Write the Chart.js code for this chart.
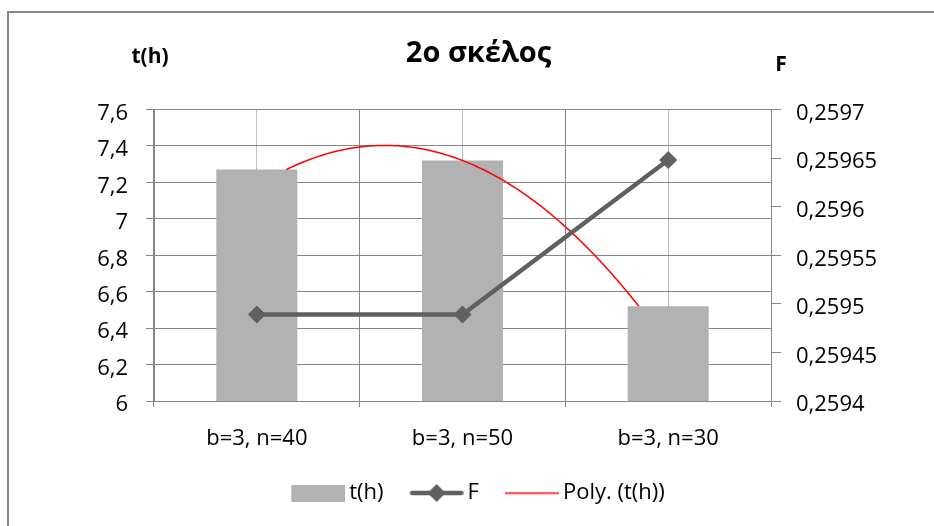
<!DOCTYPE html>
<html>
<head>
<meta charset="utf-8">
<script src="https://cdn.jsdelivr.net/npm/chart.js@4.4.1/dist/chart.umd.min.js"></script>
<style>
  html, body { margin: 0; padding: 0; background: #fff; }
  #frame { position: absolute; left: 7px; top: 11px; width: 1000px; height: 1000px;
           border: 2px solid #878787; box-sizing: border-box; }
  #chart { position: absolute; left: 0; top: 0; }
</style>
</head>
<body>
<div id="frame"></div>
<canvas id="chart" width="934" height="526"></canvas>
<script>
// Categories and measured series
const categories = ['b=3, n=40', 'b=3, n=50', 'b=3, n=30'];
const tHours = [7.27, 7.32, 6.52];
const fValues = [0.259489, 0.259489, 0.259648];

// Axis tick labels
const leftTicks = [6, 6.2, 6.4, 6.6, 6.8, 7, 7.2, 7.4, 7.6];
const rightTicks = [0.2594, 0.25945, 0.2595, 0.25955, 0.2596, 0.25965, 0.2597];

// Second-order least-squares trend of t(h) over category positions 0..n-1
function polyFit2(ys) {
  const S = [0, 0, 0, 0, 0], T = [0, 0, 0];
  ys.forEach((y, x) => {
    for (let k = 0; k < 5; k++) S[k] += Math.pow(x, k);
    for (let k = 0; k < 3; k++) T[k] += y * Math.pow(x, k);
  });
  const M = [[S[0], S[1], S[2], T[0]], [S[1], S[2], S[3], T[1]], [S[2], S[3], S[4], T[2]]];
  for (let c = 0; c < 3; c++) {
    for (let r = c + 1; r < 3; r++) {
      const f = M[r][c] / M[c][c];
      for (let k = c; k < 4; k++) M[r][k] -= f * M[c][k];
    }
  }
  const coef = [0, 0, 0];
  for (let r = 2; r >= 0; r--) {
    let s = M[r][3];
    for (let k = r + 1; k < 3; k++) s -= M[r][k] * coef[k];
    coef[r] = s / M[r][r];
  }
  return coef;
}
const trendCoef = polyFit2(tHours);
const trendPoints = [];
for (let i = 0; i <= 120; i++) {
  const x = (tHours.length - 1) * i / 120;
  trendPoints.push({ x, y: trendCoef[0] + trendCoef[1] * x + trendCoef[2] * x * x });
}

const fmt = (v, d) => String(parseFloat(Number(v).toFixed(d))).replace('.', ',');

// Legend icons: 60px canvases, glyph occupying x 6..60 so it sits flush left of the label
function icon(h, draw) {
  const c = document.createElement('canvas');
  c.width = 60; c.height = h;
  draw(c.getContext('2d'), h);
  return c;
}
const legendIcons = [
  icon(17, (g, h) => { g.fillStyle = '#b2b2b2'; g.fillRect(6, 0, 54, h); }),
  icon(20, (g, h) => {
    g.strokeStyle = '#606060'; g.lineWidth = 4.5; g.lineCap = 'round';
    g.beginPath(); g.moveTo(8.5, h / 2); g.lineTo(57.5, h / 2); g.stroke();
    g.fillStyle = '#606060';
    const cx = 33;
    g.beginPath(); g.moveTo(cx - 9, h / 2); g.lineTo(cx, h / 2 - 9);
    g.lineTo(cx + 9, h / 2); g.lineTo(cx, h / 2 + 9); g.closePath(); g.fill();
  }),
  icon(3, (g, h) => { g.fillStyle = '#ff0000'; g.fillRect(6, 0.75, 54, 1.5); })
];

// Axis captions above the value axes
const axisCaptions = {
  id: 'axisCaptions',
  afterDraw(chart) {
    const { ctx, chartArea } = chart;
    ctx.save();
    ctx.fillStyle = '#000';
    ctx.font = 'bold 21px "Open Sans"';
    ctx.textAlign = 'center';
    ctx.textBaseline = 'middle';
    ctx.fillText('t(h)', chartArea.left - 4, chartArea.top - 52);
    ctx.fillText('F', chartArea.right + 10, chartArea.top - 44.5);
    ctx.restore();
  }
};

Chart.defaults.font.family = '"Open Sans", sans-serif';
Chart.defaults.color = '#000';

const GRID_DARK = '#868686';
const GRID_LIGHT = '#bebebe';

new Chart(document.getElementById('chart'), {
  type: 'bar',
  data: {
    labels: categories,
    datasets: [
      {
        label: 't(h)',
        data: tHours,
        backgroundColor: '#b2b2b2',
        barPercentage: 0.394,
        categoryPercentage: 1,
        grouped: false,
        yAxisID: 'y',
        xAxisID: 'x',
        order: 3
      },
      {
        type: 'line',
        label: 'F',
        data: fValues,
        borderColor: '#606060',
        backgroundColor: '#606060',
        borderWidth: 4.5,
        borderCapStyle: 'round',
        pointStyle: 'rectRot',
        pointRadius: 8.5,
        pointBorderWidth: 1,
        pointBackgroundColor: '#606060',
        pointBorderColor: '#606060',
        tension: 0,
        yAxisID: 'y2',
        xAxisID: 'x',
        order: 1
      },
      {
        type: 'line',
        label: 'Poly. (t(h))',
        data: trendPoints,
        borderColor: '#ff0000',
        borderWidth: 1.5,
        pointRadius: 0,
        tension: 0,
        yAxisID: 'y',
        xAxisID: 'xt',
        order: 2
      }
    ]
  },
  options: {
    responsive: false,
    animation: false,
    devicePixelRatio: 1,
    layout: { padding: { left: 23, right: 0, top: 0, bottom: 12 } },
    scales: {
      x: {
        type: 'category',
        position: 'bottom',
        offset: true,
        grid: { offset: true, color: GRID_DARK, lineWidth: 1, drawTicks: true, tickLength: 6 },
        border: { color: GRID_DARK, width: 1 },
        ticks: { font: { size: 22 }, padding: 19, maxRotation: 0, autoSkip: false },
        afterFit(s) { s.height = 54; }
      },
      xc: {
        type: 'category',
        position: 'bottom',
        offset: true,
        grid: { offset: false, color: GRID_LIGHT, lineWidth: 1, drawTicks: false },
        border: { display: false },
        ticks: { display: false },
        afterFit(s) { s.height = 0; }
      },
      xt: {
        type: 'linear',
        display: false,
        min: -0.5,
        max: tHours.length - 0.5
      },
      y: {
        type: 'linear',
        position: 'left',
        min: leftTicks[0],
        max: leftTicks[leftTicks.length - 1],
        afterBuildTicks(s) { s.ticks = leftTicks.map(v => ({ value: v })); },
        grid: { color: GRID_DARK, lineWidth: 1, tickLength: 8 },
        border: { color: GRID_DARK, width: 1 },
        ticks: { font: { size: 22 }, padding: 18, labelOffset: 4, callback: v => fmt(v, 1) },
        afterFit(s) { s.width = 131; }
      },
      y2: {
        type: 'linear',
        position: 'right',
        min: rightTicks[0],
        max: rightTicks[rightTicks.length - 1],
        afterBuildTicks(s) { s.ticks = rightTicks.map(v => ({ value: v })); },
        grid: { drawOnChartArea: false, color: GRID_DARK, lineWidth: 1, tickLength: 10 },
        border: { color: GRID_DARK, width: 1 },
        ticks: { font: { size: 22 }, padding: 15, labelOffset: 4, callback: v => fmt(v, 5) },
        afterFit(s) { s.width = 163; }
      }
    },
    plugins: {
      title: {
        display: true,
        text: '2ο σκέλος',
        color: '#000',
        font: { size: 29, weight: 'bold' },
        padding: { top: 36.7, bottom: 38 }
      },
      legend: {
        display: true,
        position: 'bottom',
        labels: {
          usePointStyle: true,
          pointStyleWidth: 46,
          padding: 27,
          font: { size: 22 },
          color: '#000',
          generateLabels(chart) {
            return chart.data.datasets.map((ds, i) => ({
              text: ds.label,
              pointStyle: legendIcons[i],
              datasetIndex: i,
              hidden: false,
              lineWidth: 0,
              fontColor: '#000'
            }));
          }
        }
      },
      tooltip: { enabled: false }
    }
  },
  plugins: [axisCaptions]
});
</script>
</body>
</html>
